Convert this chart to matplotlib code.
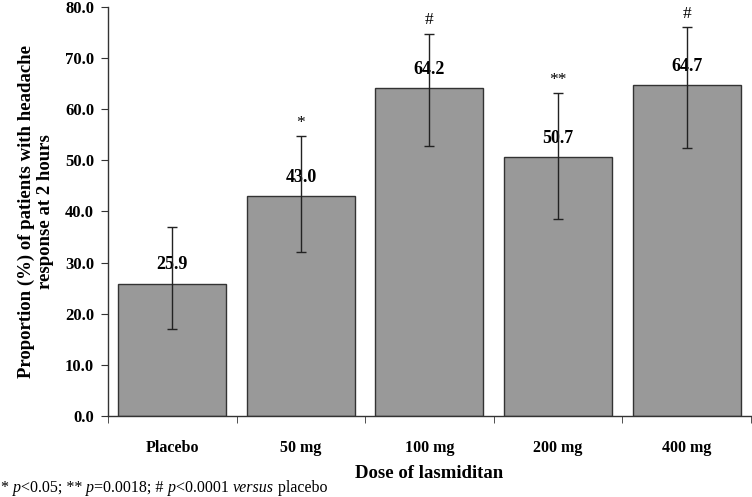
import numpy as np
import matplotlib
matplotlib.use('Agg')
import matplotlib.pyplot as plt
from matplotlib.transforms import offset_copy

plt.rcParams['font.family'] = ['Liberation Serif', 'DejaVu Serif']

# data
doses = ['Placebo', '50 mg', '100 mg', '200 mg', '400 mg']
response = [25.9, 43.0, 64.2, 50.7, 64.7]
ci_low = [17.0, 32.1, 52.9, 38.5, 52.5]
ci_high = [37.0, 54.8, 74.8, 63.1, 76.1]
signif = ['', '*', '#', '**', '#']

fig = plt.figure(figsize=(7.52, 4.97), dpi=100)
ax = fig.add_axes([0.1436, 0.163, 0.855, 0.823])

x = np.arange(len(doses))
yerr = [np.array(response) - np.array(ci_low), np.array(ci_high) - np.array(response)]
ax.bar(x, response, width=0.84, color='#999999', edgecolor='#333333', linewidth=1.0, zorder=2)
ax.errorbar(x, response, yerr=yerr, fmt='none', ecolor='#222222', elinewidth=1.0,
            capsize=3.5, capthick=1.0, zorder=3)

for i in range(len(doses)):
    ax.text(x[i], response[i] + 2.0, '%.1f' % response[i], ha='center', va='bottom',
            fontsize=13, fontweight='bold', zorder=1)
    if signif[i]:
        ax.text(x[i], ci_high[i] + 1.0, signif[i], ha='center', va='bottom',
                fontsize=12.5, zorder=4)

ax.set_xlim(-0.5, len(doses) - 0.5)
ax.set_ylim(0, 80)
ax.set_yticks(np.arange(0, 81, 10))
ax.set_yticklabels(['%.1f' % v for v in np.arange(0, 81, 10)], fontsize=12, fontweight='bold')
ax.set_xticks(x)
ax.set_xticklabels(doses, fontsize=11.5, fontweight='bold')
ax.set_xticks(np.arange(-0.5, len(doses), 1.0), minor=True)
ax.tick_params(axis='x', which='major', length=0, pad=17)
ax.tick_params(axis='x', which='minor', length=5, direction='out', color='#333333')
ax.tick_params(axis='y', length=5, direction='out', color='#333333', pad=5)

for s in ['top', 'right']:
    ax.spines[s].set_visible(False)
for s in ['left', 'bottom']:
    ax.spines[s].set_color('#333333')
    ax.spines[s].set_linewidth(1.0)

ax.set_ylabel('Proportion (%) of patients with headache\nresponse at 2 hours',
              fontsize=13.5, fontweight='bold', labelpad=8, linespacing=1.15)
ax.set_xlabel('Dose of lasmiditan', fontsize=13.5, fontweight='bold', labelpad=7)

# footnote with italic pieces
pieces = [('* ', 'normal'), ('p', 'italic'), ('<0.05; ** ', 'normal'), ('p', 'italic'),
          ('=0.0018; # ', 'normal'), ('p', 'italic'), ('<0.0001 ', 'normal'),
          ('versus', 'italic'), (' placebo', 'normal')]
renderer = fig.canvas.get_renderer()
xpos = 1
for txt, style in pieces:
    t = fig.text(0, 0, txt, fontsize=11.5, style=style, ha='left', va='baseline',
                 transform=offset_copy(fig.transFigure, fig=fig, x=xpos, y=5, units='dots'))
    xpos += t.get_window_extent(renderer).width

fig.savefig('out.png', dpi=100)
